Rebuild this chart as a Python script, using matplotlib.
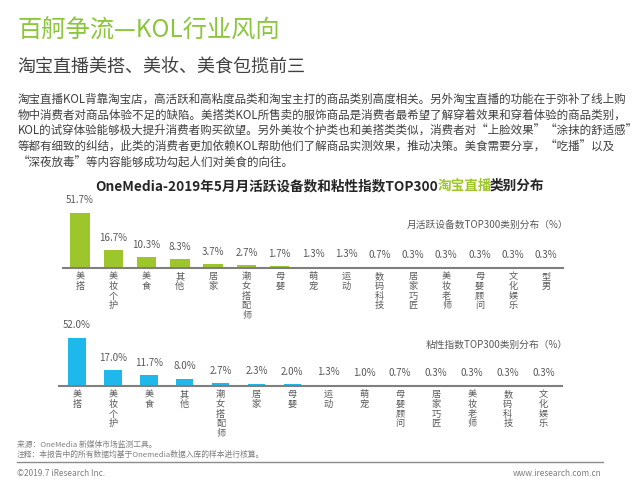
import matplotlib
matplotlib.use('Agg')
import matplotlib.pyplot as plt

plt.rcParams['font.family'] = ['Noto Sans CJK SC', 'DejaVu Sans']

W, H = 640, 482

# data
mau_cats = ["美搭", "美妆个护", "美食", "其他", "居家", "潮女搭配师", "母婴", "萌宠",
            "运动", "数码科技", "居家巧匠", "美妆老师", "母婴顾问", "文化娱乐", "型男"]
mau_vals = [51.7, 16.7, 10.3, 8.3, 3.7, 2.7, 1.7, 1.3, 1.3, 0.7, 0.3, 0.3, 0.3, 0.3, 0.3]

stick_cats = ["美搭", "美妆个护", "美食", "其他", "潮女搭配师", "居家", "母婴", "运动",
              "萌宠", "母婴顾问", "居家巧匠", "美妆老师", "数码科技", "文化娱乐"]
stick_vals = [52.0, 17.0, 11.7, 8.0, 2.7, 2.3, 2.0, 1.3, 1.0, 0.7, 0.3, 0.3, 0.3, 0.3]

title = "百舸争流—KOL行业风向"
subtitle = "淘宝直播美搭、美妆、美食包揽前三"
paragraph = [
    "淘宝直播KOL背靠淘宝店，高活跃和高粘度品类和淘宝主打的商品类别高度相关。另外淘宝直播的功能在于弥补了线上购",
    "物中消费者对商品体验不足的缺陷。美搭类KOL所售卖的服饰商品是消费者最希望了解穿着效果和穿着体验的商品类别，",
    "KOL的试穿体验能够极大提升消费者购买欲望。另外美妆个护类也和美搭类类似，消费者对“上脸效果”“涂抹的舒适感”",
    "等都有细致的纠结，此类的消费者更加依赖KOL帮助他们了解商品实测效果，推动决策。美食需要分享，“吃播”以及",
    "“深夜放毒”等内容能够成功勾起人们对美食的向往。",
]

GREEN = "#9dc62d"
BLUE = "#1fb8ea"
TXT = "#404040"
GRAY = "#595959"


def px(x, y):
    return x / W, 1 - y / H


fig = plt.figure(figsize=(W / 100, H / 100), dpi=100)

fig.text(*px(17, 30), title, fontsize=17.5, color="#8cc63f", va="center")
fig.text(*px(17, 68), subtitle, fontsize=13, color=TXT, va="center")
for i, line in enumerate(paragraph):
    fig.text(*px(18, 99 + 16 * i), line, fontsize=8.3, color=TXT, va="center")

# chart title with green highlight, pieces laid side by side
renderer = fig.canvas.get_renderer()
parts = [("OneMedia-2019年5月月活跃设备数和粘性指数TOP300", "#262626"),
         ("淘宝直播", GREEN), ("类别分布", "#262626")]
xs = 95
for s, c in parts:
    t = fig.text(*px(xs, 186), s, fontsize=9.8, fontweight="bold", color=c, va="center")
    xs += t.get_window_extent(renderer).width
    if s.endswith("播"):
        xs -= 3  # the CJK piece measures a bit wider than it draws


def bar_panel(rect, cats, vals, color, width, legend, legend_y):
    ax = fig.add_axes(rect)
    x = range(len(cats))
    ax.bar(x, vals, width=width, color=color)
    ax.set_xlim(-0.5, len(cats) - 0.5)
    ax.set_ylim(0, 60)
    for i, v in zip(x, vals):
        ax.annotate(f"{v:.1f}%", (i, v), xytext=(0, 9), textcoords="offset points",
                    ha="center", va="center", fontsize=7, color=GRAY)
    for s in ["top", "left", "right"]:
        ax.spines[s].set_visible(False)
    ax.spines["bottom"].set_color("#7f7f7f")
    ax.spines["bottom"].set_linewidth(1.5)
    ax.set_yticks([])
    ax.set_xticks(list(x))
    ax.set_xticklabels(["\n".join(c) for c in cats], fontsize=6.6, color=GRAY,
                       linespacing=1.1, va="top")
    ax.tick_params(axis="x", length=0, pad=3)
    fig.text(*px(568, legend_y), legend, fontsize=7, color=GRAY, ha="right", va="center")
    return ax


top_h = 60 * 1.065
l, b = px(63.3, 268)
bar_panel([l, b, 499.5 / W, top_h / H], mau_cats, mau_vals, GREEN, 0.58,
          "月活跃设备数TOP300类别分布（%）", 225)

bot_h = 60 * 0.93
l, b = px(59, 386)
bar_panel([l, b, 502.6 / W, bot_h / H], stick_cats, stick_vals, BLUE, 0.49,
          "粘性指数TOP300类别分布（%）", 345)

# source and footer
fig.text(*px(17, 445), "来源：OneMedia 新媒体市场监测工具。", fontsize=5.6, color="#7f7f7f", va="center")
fig.text(*px(17, 455), "注释：本报告中的所有数据均基于Onemedia数据入库的样本进行核算。", fontsize=5.6,
         color="#7f7f7f", va="center")
fig.add_artist(plt.Line2D([17 / W, 603 / W], [1 - 462 / H, 1 - 462 / H], color="#8c8c8c", lw=1))
fig.text(*px(17, 473), "©2019.7 iResearch Inc.", fontsize=6, color="#7f7f7f", va="center")
fig.text(*px(602, 473), "www.iresearch.com.cn", fontsize=6, color="#7f7f7f", va="center", ha="right")

fig.savefig("out.png", dpi=100)
